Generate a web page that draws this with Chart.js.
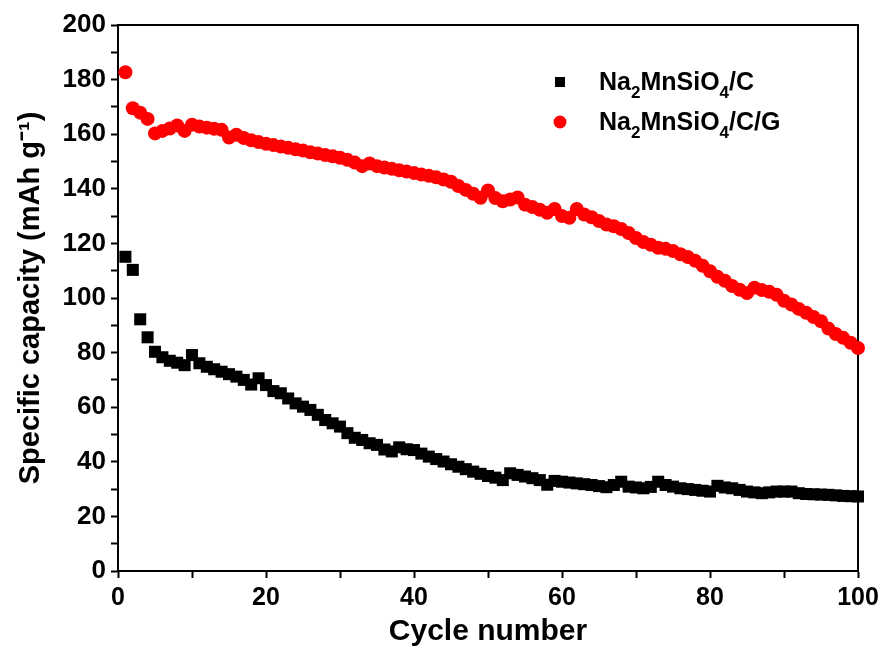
<!DOCTYPE html>
<html>
<head>
<meta charset="utf-8">
<script src="https://cdn.jsdelivr.net/npm/chart.js@4.4.0/dist/chart.umd.min.js"></script>
<style>
  html, body { margin: 0; padding: 0; background: #fff; }
  #wrap { width: 878px; height: 652px; position: relative; }
</style>
</head>
<body>
<div id="wrap"><canvas id="capacityChart"></canvas></div>
<script>
// cycle numbers (x)
const cycles = [1, 2, 3, 4, 5, 6, 7, 8, 9, 10, 11, 12, 13, 14, 15, 16, 17, 18, 19, 20,
  21, 22, 23, 24, 25, 26, 27, 28, 29, 30, 31, 32, 33, 34, 35, 36, 37, 38, 39, 40,
  41, 42, 43, 44, 45, 46, 47, 48, 49, 50, 51, 52, 53, 54, 55, 56, 57, 58, 59, 60,
  61, 62, 63, 64, 65, 66, 67, 68, 69, 70, 71, 72, 73, 74, 75, 76, 77, 78, 79, 80,
  81, 82, 83, 84, 85, 86, 87, 88, 89, 90, 91, 92, 93, 94, 95, 96, 97, 98, 99, 100];

// Na2MnSiO4/C (black squares), mAh/g
const capacityC = [115.1, 110.3, 92.2, 85.6, 80.3, 78.3, 77.0, 76.3, 75.4, 79.1,
  76.1, 74.8, 73.9, 73.0, 72.1, 71.2, 70.0, 68.3, 70.6, 68.1,
  65.9, 65.1, 63.2, 61.4, 60.2, 59.0, 57.2, 55.3, 54.1, 52.9,
  50.5, 48.8, 48.0, 46.8, 46.2, 44.5, 43.8, 45.3, 44.6, 44.3,
  43.0, 41.9, 41.0, 40.1, 39.1, 38.2, 37.3, 36.4, 35.6, 34.8,
  34.2, 33.3, 35.8, 35.2, 34.6, 34.0, 33.3, 31.6, 33.0, 32.7,
  32.4, 32.1, 31.8, 31.5, 31.1, 30.7, 31.5, 32.7, 30.9, 30.6,
  30.3, 30.8, 32.7, 31.5, 30.9, 30.3, 30.0, 29.7, 29.4, 29.1,
  31.2, 30.6, 30.3, 29.7, 29.1, 28.8, 28.5, 28.8, 29.1, 29.1,
  29.1, 28.5, 28.2, 28.1, 28.0, 27.9, 27.7, 27.5, 27.4, 27.3];

// Na2MnSiO4/C/G (red circles), mAh/g
const capacityCG = [182.7, 169.5, 167.9, 165.6, 160.3, 161.2, 162.1, 163.2, 161.2, 163.5,
  162.8, 162.4, 162.0, 161.6, 158.8, 159.8, 158.6, 157.8, 157.1, 156.5,
  156.0, 155.5, 155.0, 154.5, 154.0, 153.4, 152.9, 152.4, 151.9, 151.4,
  150.6, 149.6, 148.3, 149.3, 148.3, 147.8, 147.3, 146.8, 146.3, 145.8,
  145.2, 144.8, 144.2, 143.4, 142.6, 141.0, 139.6, 138.2, 136.7, 139.4,
  136.6, 135.4, 136.1, 136.8, 134.2, 133.3, 132.3, 131.2, 132.6, 130.0,
  129.4, 132.6, 130.6, 129.6, 128.2, 126.9, 126.3, 125.3, 123.8, 122.0,
  120.5, 119.5, 118.4, 118.0, 117.2, 116.0, 115.0, 113.6, 111.8, 109.8,
  107.8, 106.3, 104.4, 103.0, 101.8, 103.8, 102.9, 102.3, 101.2, 99.0,
  97.6, 96.0, 94.6, 93.0, 91.5, 88.8, 86.8, 85.4, 83.6, 81.7];

const xTickLabels = [0, 20, 40, 60, 80, 100];
const yTickLabels = [0, 20, 40, 60, 80, 100, 120, 140, 160, 180, 200];
const seriesNames = ['Na2MnSiO4/C', 'Na2MnSiO4/C/G'];

const toPoints = (xs, ys) => xs.map((x, i) => ({ x: x, y: ys[i] }));

const FONT = '"Liberation Sans", Arial, sans-serif';

// top and right frame lines
const framePlugin = {
  id: 'frame',
  beforeDatasetsDraw(chart) {
    const { ctx, chartArea: a } = chart;
    ctx.save();
    ctx.strokeStyle = '#000';
    ctx.lineWidth = 2;
    ctx.beginPath();
    ctx.moveTo(a.left, a.top);
    ctx.lineTo(a.right, a.top);
    ctx.lineTo(a.right, a.bottom);
    ctx.stroke();
    ctx.restore();
  }
};

// legend inside the plot, with subscript digits
const legendPlugin = {
  id: 'insideLegend',
  afterDatasetsDraw(chart) {
    const { ctx, chartArea: a } = chart;
    const markerX = a.left + 442;
    const textX = a.left + 481;
    chart.data.datasets.forEach((ds, i) => {
      const cy = a.top + 57 + i * 40;
      ctx.save();
      ctx.fillStyle = ds.backgroundColor;
      if (ds.pointStyle === 'rect') {
        ctx.fillRect(markerX - 5, cy - 5, 10, 10);
      } else {
        ctx.beginPath();
        ctx.arc(markerX, cy, 6.5, 0, Math.PI * 2);
        ctx.fill();
      }
      ctx.fillStyle = '#000';
      ctx.textBaseline = 'alphabetic';
      let x = textX;
      const base = cy + 8;
      ds.label.split(/(\d)/).forEach(part => {
        if (!part) return;
        const sub = /^\d$/.test(part);
        ctx.font = 'bold ' + (sub ? 17 : 25) + 'px ' + FONT;
        ctx.fillText(part, x, sub ? base + 8 : base);
        x += ctx.measureText(part).width;
      });
      ctx.restore();
    });
  }
};

const ctx = document.getElementById('capacityChart').getContext('2d');
new Chart(ctx, {
  type: 'scatter',
  data: {
    datasets: [
      {
        label: seriesNames[0],
        data: toPoints(cycles, capacityC),
        pointStyle: 'rect',
        pointRadius: 8.5,
        pointHoverRadius: 8.5,
        backgroundColor: '#000000',
        borderColor: '#000000',
        borderWidth: 0,
        clip: false
      },
      {
        label: seriesNames[1],
        data: toPoints(cycles, capacityCG),
        pointStyle: 'circle',
        pointRadius: 7,
        pointHoverRadius: 7,
        backgroundColor: '#ff0000',
        borderColor: '#ff0000',
        borderWidth: 0,
        clip: false
      }
    ]
  },
  options: {
    responsive: true,
    maintainAspectRatio: false,
    animation: false,
    layout: { padding: { top: 25, right: 20, left: 0, bottom: 0 } },
    plugins: {
      legend: { display: false },
      tooltip: { enabled: false }
    },
    scales: {
      x: {
        type: 'linear',
        min: 0,
        max: 100,
        afterFit: s => { s.height = 81; s.paddingLeft = 0; s.paddingRight = 0; },
        border: { display: true, color: '#000', width: 2 },
        grid: { drawOnChartArea: false, drawTicks: true, tickLength: 7, tickWidth: 2, tickColor: '#000' },
        ticks: {
          stepSize: 10,
          padding: 5,
          color: '#000',
          maxRotation: 0,
          autoSkip: false,
          font: { family: FONT, size: 25, weight: 'bold' },
          callback: v => xTickLabels.includes(v) ? v : ''
        },
        title: {
          display: true,
          text: 'Cycle number',
          color: '#000',
          font: { family: FONT, size: 30, weight: 'bold' },
          padding: { top: 0, bottom: 2 }
        }
      },
      y: {
        type: 'linear',
        min: 0,
        max: 200,
        afterFit: s => { s.width = 118; s.paddingTop = 0; s.paddingBottom = 0; },
        border: { display: true, color: '#000', width: 2 },
        grid: { drawOnChartArea: false, drawTicks: true, tickLength: 7, tickWidth: 2, tickColor: '#000' },
        ticks: {
          stepSize: 10,
          padding: 5,
          color: '#000',
          autoSkip: false,
          font: { family: FONT, size: 26, weight: 'bold' },
          callback: v => yTickLabels.includes(v) ? v : ''
        },
        title: {
          display: true,
          text: 'Specific capacity (mAh g\u207B\u00B9)',
          color: '#000',
          font: { family: FONT, size: 29, weight: 'bold' },
          padding: { top: 14, bottom: 0 }
        }
      }
    }
  },
  plugins: [framePlugin, legendPlugin]
});
</script>
</body>
</html>
